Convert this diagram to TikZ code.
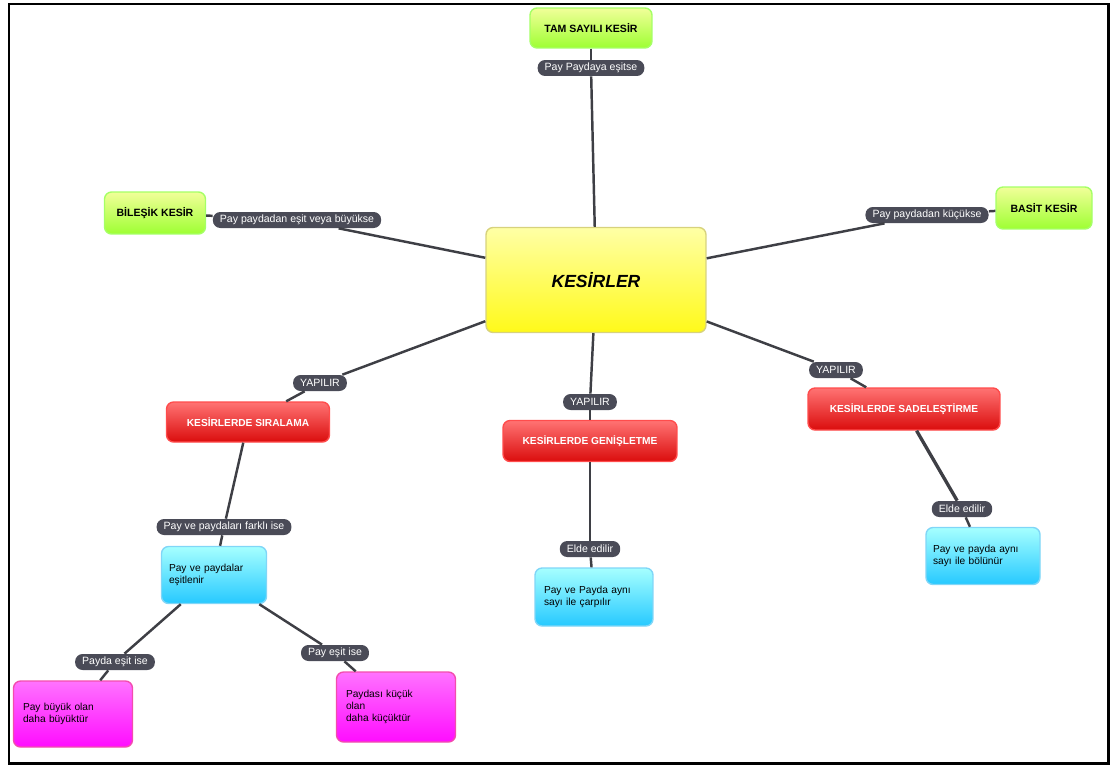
\documentclass[tikz,border=0pt]{standalone}
\usepackage{fontspec}
\setmainfont{Liberation Sans}
\usepackage{xcolor}
\usepackage{tikz}
\usetikzlibrary{positioning}

\definecolor{lblgray}{HTML}{4A4B57}
\definecolor{linegray}{HTML}{3E3F45}

\begin{document}
\begin{tikzpicture}[x=0.02cm,y=-0.02cm,
every node/.style={font=\fontsize{5.8}{7}\selectfont},
box/.style={draw,rounded corners=4pt,align=center,inner sep=1pt,line width=0.8pt},
grnbox/.style={box,draw=green!45!lime!60,top color=green!20!lime!35!yellow!40,bottom color=green!30!lime!80,font=\fontsize{6}{7}\selectfont\bfseries},
redbox/.style={box,draw=red!70,top color=red!55!white,bottom color=red!85!black!95,text=white,font=\fontsize{5.8}{7}\selectfont\bfseries},
bluebox/.style={box,draw=cyan!50,top color=cyan!35,bottom color=cyan!75!blue!85,align=left},
magbox/.style={box,draw=magenta!70,top color=magenta!55,bottom color=magenta!95,align=left},
lbl/.style={fill=lblgray,text=white,rounded corners=4.2pt,inner xsep=4pt,inner ysep=1pt,minimum height=0.32cm,font=\fontsize{6}{7}\selectfont},
conn/.style={draw=linegray,line width=1.4pt}]
\useasboundingbox (0,0) rectangle (1115,767);
\draw[line width=1.7pt] (9,4) rectangle (1108,763);

\node[box,draw=yellow!70!black!60,top color=yellow!35,bottom color=yellow!95!orange!90,minimum width=4.4cm,minimum height=2.1cm,font=\fontsize{10}{12}\selectfont\bfseries\itshape] (kesirler) at (596,280) {KESİRLER};

\node[grnbox,minimum width=2.44cm,minimum height=0.8cm] (tam) at (591,28) {TAM SAYILI KESİR};
\node[grnbox,minimum width=2.02cm,minimum height=0.84cm] (bilesik) at (155,213) {BİLEŞİK KESİR};
\node[grnbox,minimum width=1.92cm,minimum height=0.84cm] (basit) at (1044,208) {BASİT KESİR};

\node[lbl] (esitse) at (591,68) {Pay Paydaya eşitse};
\node[lbl] (buyukse) at (297,220) {Pay paydadan eşit veya büyükse};
\node[lbl] (kucukse) at (927,215) {Pay paydadan küçükse};

\draw[conn] (tam)--(esitse); \draw[conn] (esitse)--(kesirler);
\draw[conn] (bilesik)--(buyukse); \draw[conn] (buyukse)--(kesirler);
\draw[conn] (basit)--(kucukse); \draw[conn] (kucukse)--(kesirler);

\node[redbox,minimum width=3.26cm,minimum height=0.8cm] (siralama) at (248,422) {KESİRLERDE SIRALAMA};
\node[redbox,minimum width=3.48cm,minimum height=0.82cm] (genisletme) at (590,441) {KESİRLERDE GENİŞLETME};
\node[redbox,minimum width=3.84cm,minimum height=0.84cm] (sadelestirme) at (904,409) {KESİRLERDE SADELEŞTİRME};

\node[lbl] (yapA) at (320,383) {YAPILIR};
\node[lbl] (yapB) at (590,402) {YAPILIR};
\node[lbl] (yapC) at (836,370) {YAPILIR};

\draw[conn] (kesirler)--(yapA); \draw[conn] (yapA)--(siralama);
\draw[conn] (kesirler)--(yapB); \draw[conn] (yapB)--(genisletme);
\draw[conn] (kesirler)--(yapC); \draw[conn] (yapC)--(sadelestirme);

\node[bluebox,minimum width=2.1cm,minimum height=1.14cm,text width=1.8cm] (esitlenir) at (214,575) {Pay ve paydalar\\eşitlenir\\[4pt]};
\node[bluebox,minimum width=2.36cm,minimum height=1.16cm,text width=2cm] (carpilir) at (594,597) {Pay ve Payda aynı\\sayı ile çarpılır\\[4pt]};
\node[bluebox,minimum width=2.28cm,minimum height=1.14cm,text width=2cm] (bolunur) at (983,556) {Pay ve payda aynı\\sayı ile bölünür\\[4pt]};

\node[lbl] (farkli) at (224,527) {Pay ve paydaları farklı ise};
\node[lbl] (eldeA) at (590,549) {Elde edilir};
\node[lbl] (eldeB) at (962,509) {Elde edilir};

\draw[conn] (siralama)--(farkli); \draw[conn] (farkli)--(esitlenir);
\draw[conn] (genisletme)--(eldeA); \draw[conn] (eldeA)--(carpilir);
\draw[conn,line width=1.9pt] (sadelestirme)--(eldeB); \draw[conn] (eldeB)--(bolunur);

\node[magbox,minimum width=2.38cm,minimum height=1.32cm,text width=2cm] (buyuktur) at (73,714) {Pay büyük olan\\daha büyüktür\\[6pt]};
\node[magbox,minimum width=2.38cm,minimum height=1.4cm,text width=2cm] (kucuktur) at (396,707) {Paydası küçük\\olan\\daha küçüktür\\[2pt]};

\node[lbl] (paydaesit) at (115,662) {Payda eşit ise};
\node[lbl] (payesit) at (335,653) {Pay eşit ise};

\draw[conn] (esitlenir)--(paydaesit); \draw[conn] (paydaesit)--(buyuktur);
\draw[conn] (esitlenir)--(payesit); \draw[conn] (payesit)--(kucuktur);
\end{tikzpicture}
\end{document}
